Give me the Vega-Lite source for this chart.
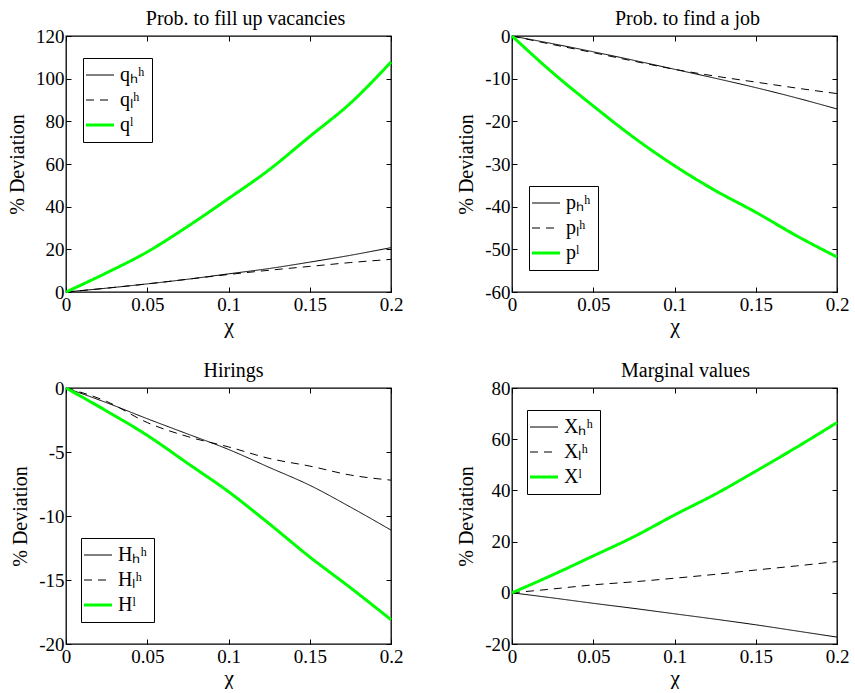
{
"$schema": "https://vega.github.io/schema/vega-lite/v6.json",
"padding": {"left": 6, "top": 8, "right": 5, "bottom": 0},
"data": {"values": [
{"panel":"q","s":"hh","chi":0,"val":0},{"panel":"q","s":"hh","chi":0.025,"val":1.8},{"panel":"q","s":"hh","chi":0.05,"val":3.8},{"panel":"q","s":"hh","chi":0.075,"val":6},{"panel":"q","s":"hh","chi":0.1,"val":8.5},{"panel":"q","s":"hh","chi":0.125,"val":11},{"panel":"q","s":"hh","chi":0.15,"val":14},{"panel":"q","s":"hh","chi":0.175,"val":17.2},{"panel":"q","s":"hh","chi":0.2,"val":20.8},
{"panel":"q","s":"lh","chi":0,"val":0},{"panel":"q","s":"lh","chi":0.025,"val":1.8},{"panel":"q","s":"lh","chi":0.05,"val":3.8},{"panel":"q","s":"lh","chi":0.075,"val":6},{"panel":"q","s":"lh","chi":0.1,"val":8.2},{"panel":"q","s":"lh","chi":0.125,"val":10.2},{"panel":"q","s":"lh","chi":0.15,"val":12},{"panel":"q","s":"lh","chi":0.175,"val":13.8},{"panel":"q","s":"lh","chi":0.2,"val":15.3},
{"panel":"q","s":"l","chi":0,"val":0},{"panel":"q","s":"l","chi":0.025,"val":9},{"panel":"q","s":"l","chi":0.05,"val":18.8},{"panel":"q","s":"l","chi":0.075,"val":30.8},{"panel":"q","s":"l","chi":0.1,"val":43.8},{"panel":"q","s":"l","chi":0.125,"val":57.3},{"panel":"q","s":"l","chi":0.15,"val":72.9},{"panel":"q","s":"l","chi":0.175,"val":88.5},{"panel":"q","s":"l","chi":0.2,"val":107.8},
{"panel":"p","s":"hh","chi":0,"val":0},{"panel":"p","s":"hh","chi":0.025,"val":-1.8},{"panel":"p","s":"hh","chi":0.05,"val":-3.7},{"panel":"p","s":"hh","chi":0.075,"val":-5.7},{"panel":"p","s":"hh","chi":0.1,"val":-7.8},{"panel":"p","s":"hh","chi":0.125,"val":-9.9},{"panel":"p","s":"hh","chi":0.15,"val":-12.1},{"panel":"p","s":"hh","chi":0.175,"val":-14.5},{"panel":"p","s":"hh","chi":0.2,"val":-17.1},
{"panel":"p","s":"lh","chi":0,"val":0},{"panel":"p","s":"lh","chi":0.025,"val":-2},{"panel":"p","s":"lh","chi":0.05,"val":-3.9},{"panel":"p","s":"lh","chi":0.075,"val":-5.9},{"panel":"p","s":"lh","chi":0.1,"val":-7.8},{"panel":"p","s":"lh","chi":0.125,"val":-9.4},{"panel":"p","s":"lh","chi":0.15,"val":-10.8},{"panel":"p","s":"lh","chi":0.175,"val":-12.2},{"panel":"p","s":"lh","chi":0.2,"val":-13.5},
{"panel":"p","s":"l","chi":0,"val":0},{"panel":"p","s":"l","chi":0.025,"val":-8.6},{"panel":"p","s":"l","chi":0.05,"val":-16.4},{"panel":"p","s":"l","chi":0.075,"val":-23.8},{"panel":"p","s":"l","chi":0.1,"val":-30.4},{"panel":"p","s":"l","chi":0.125,"val":-36.2},{"panel":"p","s":"l","chi":0.15,"val":-41.3},{"panel":"p","s":"l","chi":0.175,"val":-46.8},{"panel":"p","s":"l","chi":0.2,"val":-51.8},
{"panel":"H","s":"hh","chi":0,"val":0},{"panel":"H","s":"hh","chi":0.025,"val":-1.15},{"panel":"H","s":"hh","chi":0.05,"val":-2.4},{"panel":"H","s":"hh","chi":0.075,"val":-3.6},{"panel":"H","s":"hh","chi":0.1,"val":-4.8},{"panel":"H","s":"hh","chi":0.125,"val":-6.2},{"panel":"H","s":"hh","chi":0.15,"val":-7.6},{"panel":"H","s":"hh","chi":0.175,"val":-9.3},{"panel":"H","s":"hh","chi":0.2,"val":-11.1},
{"panel":"H","s":"lh","chi":0,"val":0},{"panel":"H","s":"lh","chi":0.025,"val":-1.05},{"panel":"H","s":"lh","chi":0.05,"val":-2.7},{"panel":"H","s":"lh","chi":0.075,"val":-3.8},{"panel":"H","s":"lh","chi":0.1,"val":-4.6},{"panel":"H","s":"lh","chi":0.125,"val":-5.5},{"panel":"H","s":"lh","chi":0.15,"val":-6.1},{"panel":"H","s":"lh","chi":0.175,"val":-6.8},{"panel":"H","s":"lh","chi":0.2,"val":-7.2},
{"panel":"H","s":"l","chi":0,"val":0},{"panel":"H","s":"l","chi":0.025,"val":-1.8},{"panel":"H","s":"l","chi":0.05,"val":-3.7},{"panel":"H","s":"l","chi":0.075,"val":-5.9},{"panel":"H","s":"l","chi":0.1,"val":-8.1},{"panel":"H","s":"l","chi":0.125,"val":-10.6},{"panel":"H","s":"l","chi":0.15,"val":-13.2},{"panel":"H","s":"l","chi":0.175,"val":-15.6},{"panel":"H","s":"l","chi":0.2,"val":-18.1},
{"panel":"X","s":"hh","chi":0,"val":0},{"panel":"X","s":"hh","chi":0.025,"val":-2},{"panel":"X","s":"hh","chi":0.05,"val":-4.1},{"panel":"X","s":"hh","chi":0.075,"val":-6.1},{"panel":"X","s":"hh","chi":0.1,"val":-8.2},{"panel":"X","s":"hh","chi":0.125,"val":-10.3},{"panel":"X","s":"hh","chi":0.15,"val":-12.5},{"panel":"X","s":"hh","chi":0.175,"val":-14.9},{"panel":"X","s":"hh","chi":0.2,"val":-17.3},
{"panel":"X","s":"lh","chi":0,"val":0},{"panel":"X","s":"lh","chi":0.025,"val":1.5},{"panel":"X","s":"lh","chi":0.05,"val":3.1},{"panel":"X","s":"lh","chi":0.075,"val":4.3},{"panel":"X","s":"lh","chi":0.1,"val":5.7},{"panel":"X","s":"lh","chi":0.125,"val":7.2},{"panel":"X","s":"lh","chi":0.15,"val":8.9},{"panel":"X","s":"lh","chi":0.175,"val":10.5},{"panel":"X","s":"lh","chi":0.2,"val":12.2},
{"panel":"X","s":"l","chi":0,"val":0},{"panel":"X","s":"l","chi":0.025,"val":7},{"panel":"X","s":"l","chi":0.05,"val":14.4},{"panel":"X","s":"l","chi":0.075,"val":21.9},{"panel":"X","s":"l","chi":0.1,"val":30.4},{"panel":"X","s":"l","chi":0.125,"val":38.5},{"panel":"X","s":"l","chi":0.15,"val":47.5},{"panel":"X","s":"l","chi":0.175,"val":56.8},{"panel":"X","s":"l","chi":0.2,"val":66.5}
]},
"columns": 2,
"spacing": {"row": 96, "column": 121},
"bounds": "flush",
"resolve": {
  "scale": {"x": "independent", "y": "independent", "color": "independent", "strokeDash": "independent"},
  "legend": {"color": "independent", "strokeDash": "independent"}
},
"concat": [
{
 "title": {"text": "Prob. to fill up vacancies", "dx": 17},
 "width": 325, "height": 256,
 "transform": [{"filter": "datum.panel == 'q'"}],
 "layer": [
  {"mark": {"type": "line", "interpolate": "monotone"},
   "encoding": {
    "x": {"field": "chi", "type": "quantitative", "scale": {"domain": [0, 0.2], "nice": false, "zero": false}, "axis": {"values": [0, 0.05, 0.1, 0.15, 0.2], "format": "~g", "title": "χ", "titleFontSize": 22, "titlePadding": 1, "labelPadding": 8}},
    "y": {"field": "val", "type": "quantitative", "scale": {"domain": [0, 120], "nice": false}, "axis": {"values": [0, 20, 40, 60, 80, 100, 120], "title": "% Deviation", "labelExpr": "replace(datum.label, '−', '-')"}},
    "color": {"field": "s", "type": "nominal", "scale": {"domain": ["hh", "lh", "l"], "range": ["#000000", "#000000", "#00ff00"]}, "legend": {"orient": "none", "legendX": 17, "legendY": 22, "title": null, "symbolStrokeWidth": {"expr": "datum.value == 'l' ? 3 : 1"}, "labelExpr": "'q' + (datum.value == 'hh' ? 'ₕʰ' : datum.value == 'lh' ? 'ₗʰ' : 'ˡ')"}},
    "strokeDash": {"field": "s", "type": "nominal", "scale": {"domain": ["hh", "lh", "l"], "range": [[1, 0], [8, 6], [1, 0]]}, "legend": {"orient": "none", "legendX": 17, "legendY": 22, "title": null, "symbolStrokeWidth": {"expr": "datum.value == 'l' ? 3 : 1"}, "labelExpr": "'q' + (datum.value == 'hh' ? 'ₕʰ' : datum.value == 'lh' ? 'ₗʰ' : 'ˡ')"}},
    "strokeWidth": {"condition": {"test": "datum.s == 'l'", "value": 3}, "value": 1}
   }},
  {"mark": {"type": "point", "opacity": 0},
   "encoding": {
    "x": {"field": "chi", "type": "quantitative", "axis": {"orient": "top", "labels": false, "title": null, "values": [0, 0.05, 0.1, 0.15, 0.2]}},
    "y": {"field": "val", "type": "quantitative", "axis": {"orient": "right", "labels": false, "title": null, "values": [0, 20, 40, 60, 80, 100, 120]}}
   }}
 ],
 "resolve": {"axis": {"x": "independent", "y": "independent"}}
},
{
 "title": {"text": "Prob. to find a job", "dx": 13},
 "width": 325, "height": 256,
 "transform": [{"filter": "datum.panel == 'p'"}],
 "layer": [
  {"mark": {"type": "line", "interpolate": "monotone"},
   "encoding": {
    "x": {"field": "chi", "type": "quantitative", "scale": {"domain": [0, 0.2], "nice": false, "zero": false}, "axis": {"values": [0, 0.05, 0.1, 0.15, 0.2], "format": "~g", "title": "χ", "titleFontSize": 22, "titlePadding": 1, "labelPadding": 8}},
    "y": {"field": "val", "type": "quantitative", "scale": {"domain": [-60, 0], "nice": false}, "axis": {"values": [-60, -50, -40, -30, -20, -10, 0], "title": "% Deviation", "labelExpr": "replace(datum.label, '−', '-')"}},
    "color": {"field": "s", "type": "nominal", "scale": {"domain": ["hh", "lh", "l"], "range": ["#000000", "#000000", "#00ff00"]}, "legend": {"orient": "none", "legendX": 17, "legendY": 150, "title": null, "symbolStrokeWidth": {"expr": "datum.value == 'l' ? 3 : 1"}, "labelExpr": "'p' + (datum.value == 'hh' ? 'ₕʰ' : datum.value == 'lh' ? 'ₗʰ' : 'ˡ')"}},
    "strokeDash": {"field": "s", "type": "nominal", "scale": {"domain": ["hh", "lh", "l"], "range": [[1, 0], [8, 6], [1, 0]]}, "legend": {"orient": "none", "legendX": 17, "legendY": 150, "title": null, "symbolStrokeWidth": {"expr": "datum.value == 'l' ? 3 : 1"}, "labelExpr": "'p' + (datum.value == 'hh' ? 'ₕʰ' : datum.value == 'lh' ? 'ₗʰ' : 'ˡ')"}},
    "strokeWidth": {"condition": {"test": "datum.s == 'l'", "value": 3}, "value": 1}
   }},
  {"mark": {"type": "point", "opacity": 0},
   "encoding": {
    "x": {"field": "chi", "type": "quantitative", "axis": {"orient": "top", "labels": false, "title": null, "values": [0, 0.05, 0.1, 0.15, 0.2]}},
    "y": {"field": "val", "type": "quantitative", "axis": {"orient": "right", "labels": false, "title": null, "values": [-60, -50, -40, -30, -20, -10, 0]}}
   }}
 ],
 "resolve": {"axis": {"x": "independent", "y": "independent"}}
},
{
 "title": {"text": "Hirings", "dx": 5},
 "width": 325, "height": 256,
 "transform": [{"filter": "datum.panel == 'H'"}],
 "layer": [
  {"mark": {"type": "line", "interpolate": "monotone"},
   "encoding": {
    "x": {"field": "chi", "type": "quantitative", "scale": {"domain": [0, 0.2], "nice": false, "zero": false}, "axis": {"values": [0, 0.05, 0.1, 0.15, 0.2], "format": "~g", "title": "χ", "titleFontSize": 22, "titlePadding": 1, "labelPadding": 8}},
    "y": {"field": "val", "type": "quantitative", "scale": {"domain": [-20, 0], "nice": false}, "axis": {"values": [-20, -15, -10, -5, 0], "title": "% Deviation", "labelExpr": "replace(datum.label, '−', '-')"}},
    "color": {"field": "s", "type": "nominal", "scale": {"domain": ["hh", "lh", "l"], "range": ["#000000", "#000000", "#00ff00"]}, "legend": {"orient": "none", "legendX": 15, "legendY": 150, "title": null, "symbolStrokeWidth": {"expr": "datum.value == 'l' ? 3 : 1"}, "labelExpr": "'H' + (datum.value == 'hh' ? 'ₕʰ' : datum.value == 'lh' ? 'ₗʰ' : 'ˡ')"}},
    "strokeDash": {"field": "s", "type": "nominal", "scale": {"domain": ["hh", "lh", "l"], "range": [[1, 0], [8, 6], [1, 0]]}, "legend": {"orient": "none", "legendX": 15, "legendY": 150, "title": null, "symbolStrokeWidth": {"expr": "datum.value == 'l' ? 3 : 1"}, "labelExpr": "'H' + (datum.value == 'hh' ? 'ₕʰ' : datum.value == 'lh' ? 'ₗʰ' : 'ˡ')"}},
    "strokeWidth": {"condition": {"test": "datum.s == 'l'", "value": 3}, "value": 1}
   }},
  {"mark": {"type": "point", "opacity": 0},
   "encoding": {
    "x": {"field": "chi", "type": "quantitative", "axis": {"orient": "top", "labels": false, "title": null, "values": [0, 0.05, 0.1, 0.15, 0.2]}},
    "y": {"field": "val", "type": "quantitative", "axis": {"orient": "right", "labels": false, "title": null, "values": [-20, -15, -10, -5, 0]}}
   }}
 ],
 "resolve": {"axis": {"x": "independent", "y": "independent"}}
},
{
 "title": {"text": "Marginal values", "dx": 11},
 "width": 325, "height": 256,
 "transform": [{"filter": "datum.panel == 'X'"}],
 "layer": [
  {"mark": {"type": "line", "interpolate": "monotone"},
   "encoding": {
    "x": {"field": "chi", "type": "quantitative", "scale": {"domain": [0, 0.2], "nice": false, "zero": false}, "axis": {"values": [0, 0.05, 0.1, 0.15, 0.2], "format": "~g", "title": "χ", "titleFontSize": 22, "titlePadding": 1, "labelPadding": 8}},
    "y": {"field": "val", "type": "quantitative", "scale": {"domain": [-20, 80], "nice": false}, "axis": {"values": [-20, 0, 20, 40, 60, 80], "title": "% Deviation", "labelExpr": "replace(datum.label, '−', '-')"}},
    "color": {"field": "s", "type": "nominal", "scale": {"domain": ["hh", "lh", "l"], "range": ["#000000", "#000000", "#00ff00"]}, "legend": {"orient": "none", "legendX": 15, "legendY": 22, "title": null, "symbolStrokeWidth": {"expr": "datum.value == 'l' ? 3 : 1"}, "labelExpr": "'X' + (datum.value == 'hh' ? 'ₕʰ' : datum.value == 'lh' ? 'ₗʰ' : 'ˡ')"}},
    "strokeDash": {"field": "s", "type": "nominal", "scale": {"domain": ["hh", "lh", "l"], "range": [[1, 0], [8, 6], [1, 0]]}, "legend": {"orient": "none", "legendX": 15, "legendY": 22, "title": null, "symbolStrokeWidth": {"expr": "datum.value == 'l' ? 3 : 1"}, "labelExpr": "'X' + (datum.value == 'hh' ? 'ₕʰ' : datum.value == 'lh' ? 'ₗʰ' : 'ˡ')"}},
    "strokeWidth": {"condition": {"test": "datum.s == 'l'", "value": 3}, "value": 1}
   }},
  {"mark": {"type": "point", "opacity": 0},
   "encoding": {
    "x": {"field": "chi", "type": "quantitative", "axis": {"orient": "top", "labels": false, "title": null, "values": [0, 0.05, 0.1, 0.15, 0.2]}},
    "y": {"field": "val", "type": "quantitative", "axis": {"orient": "right", "labels": false, "title": null, "values": [-20, 0, 20, 40, 60, 80]}}
   }}
 ],
 "resolve": {"axis": {"x": "independent", "y": "independent"}}
}
],
"config": {
  "font": "Liberation Serif, Times New Roman, serif",
  "background": "white",
  "style": {"guide-label": {"font": "Liberation Serif, Times New Roman, serif", "fontSize": 19, "fill": "#000000"}, "guide-title": {"font": "Liberation Serif, Times New Roman, serif", "fontSize": 20, "fontWeight": "normal", "fill": "#000000"}},
  "view": {"stroke": "#000000", "strokeWidth": 1.3},
  "axis": {"grid": false, "domain": false, "ticks": true, "tickSize": -5, "tickColor": "#000000", "tickWidth": 1,
           "labelFont": "Liberation Serif, Times New Roman, serif", "labelFontSize": 19, "labelColor": "#000000", "labelPadding": 7,
           "labelFlush": false, "labelOverlap": false,
           "titleFont": "Liberation Serif, Times New Roman, serif", "titleFontSize": 20, "titleFontWeight": "normal", "titleColor": "#000000", "titlePadding": 8},
  "title": {"font": "Liberation Serif, Times New Roman, serif", "fontSize": 20, "fontWeight": "normal", "color": "#000000", "offset": -2},
  "legend": {"labelFont": "Liberation Serif, Times New Roman, serif", "labelFontSize": 20, "labelColor": "#000000", "strokeColor": "#000000", "fillColor": "#ffffff",
             "padding": 7, "rowPadding": 5, "symbolSize": 784, "labelOffset": 10, "symbolType": "stroke"}
}
}
